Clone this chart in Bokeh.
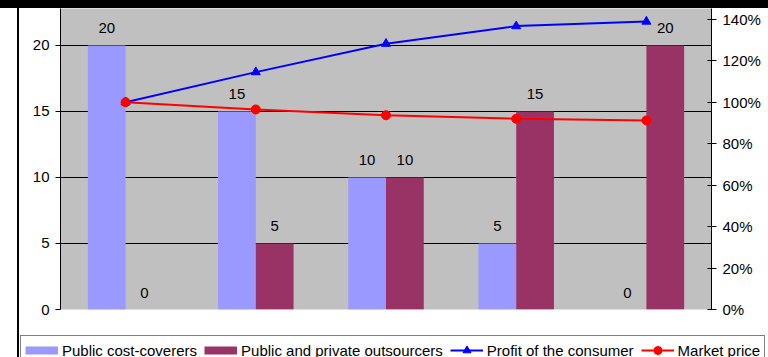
from bokeh.plotting import figure
from bokeh.models import (ColumnDataSource, FactorRange, Range1d, LinearAxis,
                          NumeralTickFormatter, FixedTicker, Legend, LegendItem, Div)
from bokeh.layouts import column, row
from bokeh.transform import dodge
from bokeh.core.properties import value
from bokeh.embed import file_html
from bokeh.resources import INLINE

# ---- data ----
cats = ["1", "2", "3", "4", "5"]
public_cost_coverers = [20, 15, 10, 5, 0]
outsourcers = [0, 5, 10, 15, 20]
profit_consumer = [1.00, 1.145, 1.282, 1.367, 1.389]
market_price = [1.00, 0.965, 0.937, 0.920, 0.912]
left_ticks = [0, 5, 10, 15, 20]
right_ticks = [0, 0.2, 0.4, 0.6, 0.8, 1.0, 1.2, 1.4]
series_names = ["Public cost-coverers", "Public and private outsourcers",
                "Profit of the consumer", "Market price"]

FONT = "Liberation Sans"
FS = "15px"
BLUE_BAR = "#9999FF"
PURPLE_BAR = "#993366"
BLUE = "#0000FF"
RED = "#FF0000"

src = ColumnDataSource(dict(
    cat=cats,
    pcc=public_cost_coverers,
    out=outsourcers,
    pcc_lbl=[str(v) for v in public_cost_coverers],
    out_lbl=[str(v) for v in outsourcers],
    profit=profit_consumer,
    price=market_price,
))

p = figure(width=749, height=326,
           x_range=FactorRange(factors=cats, range_padding=0),
           y_range=Range1d(0, 22.8),
           output_backend="svg", toolbar_location=None,
           x_axis_location=None,
           min_border_left=41, min_border_right=57,
           min_border_top=0, min_border_bottom=25,
           background_fill_color="#C0C0C0", border_fill_color="white",
           outline_line_color=None, margin=0, frame_align=False)
p.extra_y_ranges = {"pct": Range1d(0, 1.452)}

# grid
p.xgrid.visible = False
p.ygrid.ticker = FixedTicker(ticks=left_ticks)
p.ygrid.grid_line_color = "black"
p.ygrid.grid_line_width = 1

# left axis
ya = p.yaxis[0]
ya.ticker = FixedTicker(ticks=left_ticks)
ya.axis_line_color = "black"
ya.major_tick_line_color = "black"
ya.minor_tick_line_color = None
ya.major_tick_in = 0
ya.major_tick_out = 5
ya.major_label_standoff = 6
ya.major_label_text_font = FONT
ya.major_label_text_font_size = FS
ya.major_label_text_color = "black"

# right axis
ra = LinearAxis(y_range_name="pct", ticker=FixedTicker(ticks=right_ticks),
                formatter=NumeralTickFormatter(format="0%"))
ra.axis_line_color = "black"
ra.major_tick_line_color = "black"
ra.minor_tick_line_color = None
ra.major_tick_in = 4
ra.major_tick_out = 5
ra.major_label_standoff = 6
ra.major_label_text_font = FONT
ra.major_label_text_font_size = FS
ra.major_label_text_color = "black"
p.add_layout(ra, "right")

W = 0.29
OFF = 0.145

p.vbar(x=dodge("cat", -OFF, range=p.x_range), top="pcc", width=W, source=src,
       fill_color=BLUE_BAR, line_color=None)
p.vbar(x=dodge("cat", OFF, range=p.x_range), top="out", width=W, source=src,
       fill_color=PURPLE_BAR, line_color=None)

p.text(x=dodge("cat", -OFF, range=p.x_range), y="pcc", text="pcc_lbl", source=src,
       text_align="center", text_baseline="middle", y_offset=-17,
       text_font=value(FONT), text_font_size=FS, text_color="black")
p.text(x=dodge("cat", OFF, range=p.x_range), y="out", text="out_lbl", source=src,
       text_align="center", text_baseline="middle", y_offset=-17,
       text_font=value(FONT), text_font_size=FS, text_color="black")

p.line(x="cat", y="profit", source=src, y_range_name="pct",
       line_color=BLUE, line_width=2)
p.scatter(x="cat", y="profit", source=src, y_range_name="pct",
          marker="triangle", size=9, fill_color=BLUE, line_color=BLUE)
p.line(x="cat", y="price", source=src, y_range_name="pct",
       line_color=RED, line_width=2)
p.scatter(x="cat", y="price", source=src, y_range_name="pct",
          marker="circle", size=9, fill_color=RED, line_color=RED)

# ---- legend strip (separate canvas below the chart) ----
lf = figure(width=749, height=23, output_backend="svg", toolbar_location=None,
            x_range=FactorRange(factors=cats),
            x_axis_location=None, y_axis_location=None,
            min_border=0, outline_line_color=None, margin=0, frame_align=False,
            background_fill_color="white", border_fill_color="white")
lf.xgrid.visible = False
lf.ygrid.visible = False

sw1 = lf.line(x="cat", y="pcc", source=src, line_color=BLUE_BAR, line_width=8, visible=False)
sw2 = lf.line(x="cat", y="out", source=src, line_color=PURPLE_BAR, line_width=8, visible=False)
lbl = lf.line(x="cat", y="profit", source=src, line_color=BLUE, line_width=2, visible=False)
lbm = lf.scatter(x="cat", y="profit", source=src, marker="triangle",
                 fill_color=BLUE, line_color=BLUE, visible=False)
lrl = lf.line(x="cat", y="price", source=src, line_color=RED, line_width=2, visible=False)
lrm = lf.scatter(x="cat", y="price", source=src, marker="circle",
                 fill_color=RED, line_color=RED, visible=False)

leg = Legend(items=[
    LegendItem(label=series_names[0], renderers=[sw1]),
    LegendItem(label=series_names[1], renderers=[sw2]),
    LegendItem(label=series_names[2], renderers=[lbl, lbm]),
    LegendItem(label=series_names[3], renderers=[lrl, lrm]),
], location="top_left", orientation="horizontal",
    glyph_width=33, glyph_height=20, label_height=20, label_standoff=4,
    spacing=7, padding=4, margin=1,
    border_line_color="black", border_line_width=1,
    background_fill_color="white", background_fill_alpha=1,
    inactive_fill_alpha=0,
    label_text_font=FONT, label_text_font_size=FS, label_text_color="black")
lf.add_layout(leg)

top_bar = Div(width=768, height=8, margin=0, styles={"background-color": "black"})
spacer = Div(width=17, height=349, margin=0)
vline = Div(width=2, height=349, margin=0, styles={"background-color": "black"})
layout = column(top_bar,
                row(spacer, vline, column(p, lf, margin=0), margin=0),
                margin=0)

open("out.html", "w").write(file_html(layout, INLINE))
